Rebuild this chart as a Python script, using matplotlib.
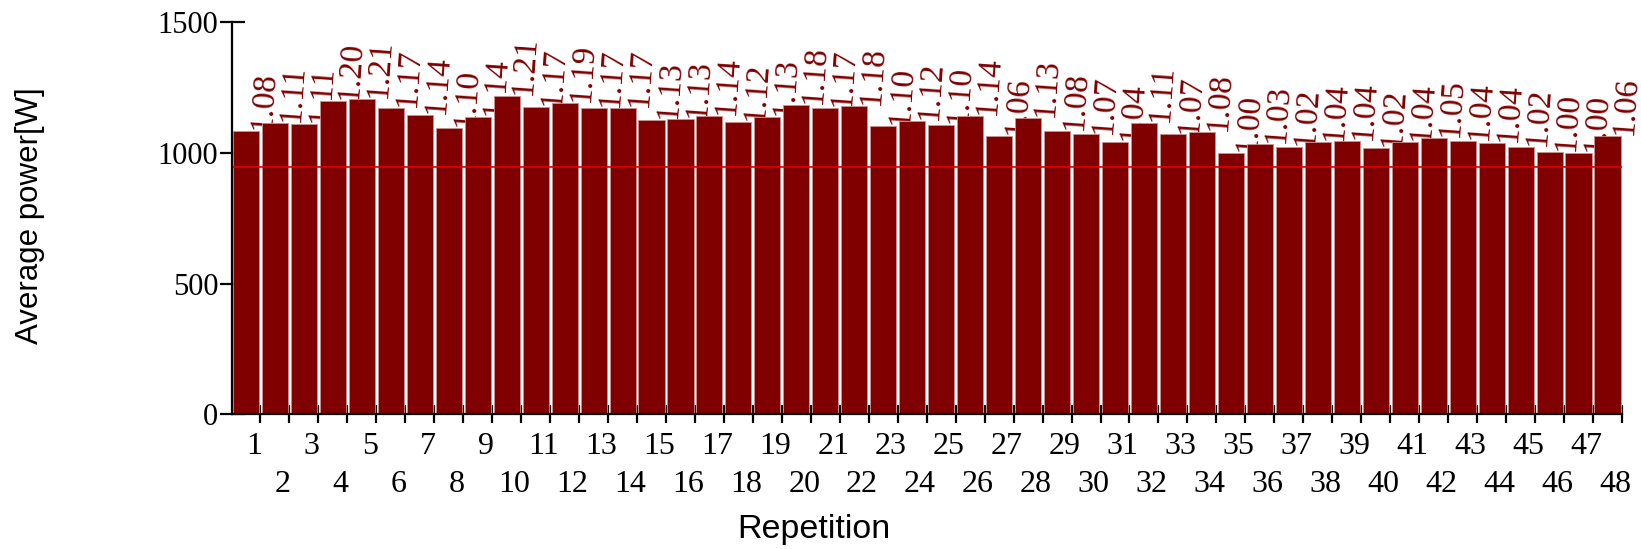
import matplotlib
matplotlib.use("Agg")
import matplotlib.pyplot as plt

# average power per repetition
repetition = list(range(1, 49))
avg_power = [1083, 1115, 1111, 1197, 1206, 1173, 1144, 1095, 1138, 1217,
             1175, 1190, 1173, 1173, 1126, 1130, 1140, 1117, 1136, 1182,
             1171, 1180, 1103, 1122, 1107, 1140, 1065, 1133, 1083, 1070,
             1041, 1113, 1070, 1079, 998, 1034, 1021, 1041, 1046, 1019,
             1041, 1055, 1045, 1038, 1023, 1003, 1000, 1064]
ratio_labels = ["1.08", "1.11", "1.11", "1.20", "1.21", "1.17", "1.14", "1.10",
                "1.14", "1.21", "1.17", "1.19", "1.17", "1.17", "1.13", "1.13",
                "1.14", "1.12", "1.13", "1.18", "1.17", "1.18", "1.10", "1.12",
                "1.10", "1.14", "1.06", "1.13", "1.08", "1.07", "1.04", "1.11",
                "1.07", "1.08", "1.00", "1.03", "1.02", "1.04", "1.04", "1.02",
                "1.04", "1.05", "1.04", "1.04", "1.02", "1.00", "1.00", "1.06"]
threshold = 944
y_ticks = [0, 500, 1000, 1500]

serif = "Liberation Serif"
sans = "Liberation Sans"

fig = plt.figure(figsize=(16.41, 5.49), dpi=100)
ax = fig.add_axes([0.1414, 0.245, 0.847, 0.715])

bars = ax.bar(repetition, avg_power, width=0.9, color="#800000",
              edgecolor="#c89393", linewidth=0.6)

# each label sits under the following bar, like the original drawing order
for k, (patch, x, v, lab) in enumerate(zip(bars.patches, repetition,
                                           avg_power, ratio_labels)):
    patch.set_zorder(2 + 2 * k)
    ax.text(x + 0.04, v + 6, lab, rotation=86, rotation_mode="anchor",
            ha="left", va="top", fontsize=24, color="#800000",
            family=serif, clip_on=False, zorder=3 + 2 * k)

ax.axhline(threshold, color="#e00000", linewidth=1.2, zorder=200)

ax.set_xlim(0.52, 48.5)
ax.set_ylim(0, 1500)

# tick marks sit between bars, labels staggered on two rows
ax.set_xticks([r + 0.5 for r in repetition])
ax.set_xticklabels([])
ax.tick_params(axis="x", direction="inout", length=13, width=1.6)
for r in repetition:
    row_y = -0.045 if r % 2 == 1 else -0.142
    ax.text(r + 0.27, row_y, str(r), transform=ax.get_xaxis_transform(),
            ha="center", va="top", fontsize=23, family=serif)

ax.set_yticks(y_ticks)
ax.set_yticklabels([str(t) for t in y_ticks], family=serif, fontsize=22)
ax.tick_params(axis="y", direction="inout", length=18, width=1.6, pad=1)

for side in ["top", "right"]:
    ax.spines[side].set_visible(False)
for side in ["left", "bottom"]:
    ax.spines[side].set_linewidth(1.6)
    ax.spines[side].set_zorder(300)

fig.text(0.0183, 0.608, "Average power[W]", rotation=90, ha="center",
         va="center", fontsize=22.5, family=sans)
fig.text(0.496, 0.035, "Repetition", ha="center", va="center",
         fontsize=24.5, family=sans)

fig.savefig("out.png", dpi=100)
